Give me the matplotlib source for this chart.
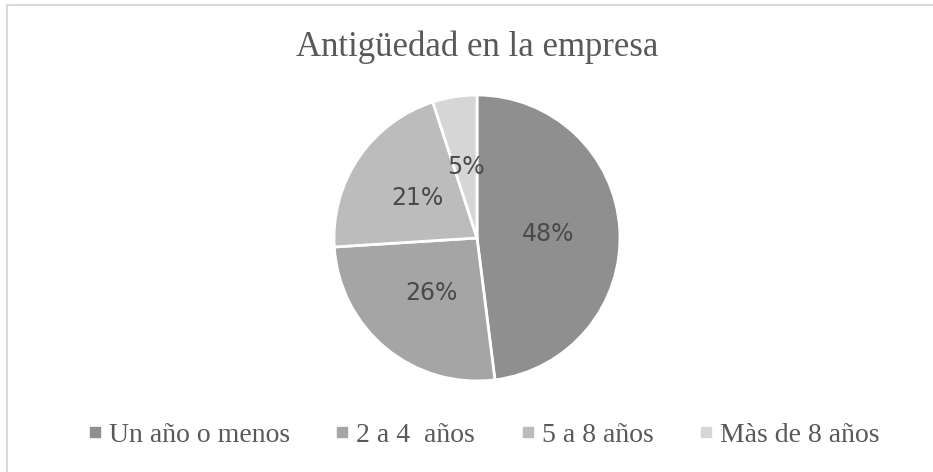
import matplotlib
matplotlib.use("Agg")
import matplotlib.pyplot as plt
from matplotlib.lines import Line2D
from matplotlib.patches import Rectangle

categories = ["Un año o menos", "2 a 4  años", "5 a 8 años", "Màs de 8 años"]
values = [48, 26, 21, 5]
colors = ["#8f8f8f", "#a5a5a5", "#bcbcbc", "#d6d6d6"]
title = "Antigüedad en la empresa"

W, H = 933, 472
fig = plt.figure(figsize=(W / 100, H / 100), dpi=100)
fig.patch.set_facecolor("white")

# outer border
fig.patches.append(Rectangle((7 / W, -0.05), 1.2, (H - 5) / H + 0.05, transform=fig.transFigure,
                             fill=False, edgecolor="#d9d9d9", linewidth=1.5))

cx, cy, r = 477, 238, 143
ax = fig.add_axes([(cx - r) / W, (H - cy - r) / H, 2 * r / W, 2 * r / H])
wedges, texts, autotexts = ax.pie(values, colors=colors, startangle=90, counterclock=False,
                                  autopct=lambda p: f"{p:.0f}%", pctdistance=0.5,
                                  wedgeprops=dict(edgecolor="white", linewidth=2),
                                  textprops=dict(fontsize=17, color="#4a4a4a", family="DejaVu Sans"))
ax.set_xlim(-1, 1)
ax.set_ylim(-1, 1)
ax.set_aspect("equal")

fig.text(cx / W, 1 - 47 / H, title, ha="center", va="center", fontsize=25,
         family="Liberation Serif", color="#595959")

handles = [Line2D([], [], marker="s", linestyle="none", markersize=7, markerfacecolor=c,
                  markeredgecolor=c) for c in colors]
fig.legend(handles, categories, loc="center", bbox_to_anchor=(483 / W, 1 - 435 / H), ncol=4,
           frameon=False, prop=dict(family="Liberation Serif", size=20), labelcolor="#595959",
           handlelength=0.6, handletextpad=0.2, columnspacing=1.6)

fig.savefig("out.png", dpi=100)
